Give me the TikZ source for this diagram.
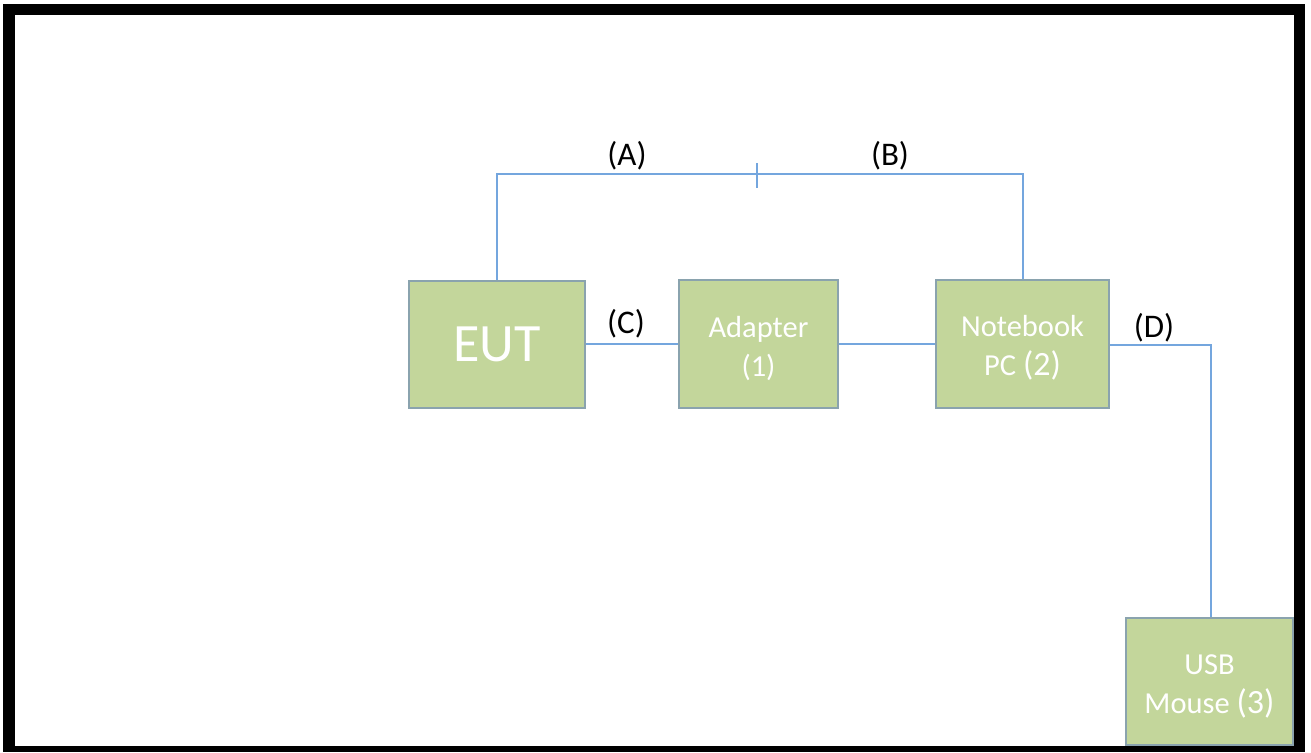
\documentclass[tikz,border=0pt]{standalone}
\usepackage{fontspec}
\setmainfont{Carlito}
\definecolor{boxfill}{HTML}{C3D69B}
\definecolor{boxline}{HTML}{8AA3AE}
\definecolor{wire}{HTML}{74A6DE}
\tikzset{
  unit/.style={draw=boxline, line width=2pt, fill=boxfill, inner sep=0pt},
  boxtext/.style={text=white, align=center, inner sep=0pt, font=\fontsize{30.5}{39}\selectfont},
  wireline/.style={draw=wire, line width=2pt},
  lbl/.style={anchor=base, text=black, font=\fontsize{33}{38}\selectfont, inner sep=0pt}
}
\begin{document}
\begin{tikzpicture}[x=1pt,y=-1pt]
\useasboundingbox (0,0) rectangle (1311,752);
\fill[black] (3,4) rectangle (1305,752);
\fill[white] (15,15) rectangle (1294,746);
% boxes
\node[unit, minimum width=176pt, minimum height=127pt, text=white, font=\fontsize{54}{60}\selectfont] (eut) at (497,344) {EUT};
\node[unit, minimum width=159pt, minimum height=128pt] (adp) at (758.5,344) {};
\node[unit, minimum width=173pt, minimum height=128pt] (nb) at (1022.5,344) {};
\node[unit, minimum width=167pt, minimum height=127pt] (usb) at (1209.5,681.5) {};
\node[boxtext] (adpt) at ([yshift=-5pt]adp.center) {Adapter\\(1)};
\node[boxtext] (nbt) at ([yshift=-4pt]nb.center) {Notebook\\PC {\fontsize{34}{39}\selectfont(2)}};
\node[boxtext] (usbt) at ([yshift=-5pt]usb.center) {USB\\Mouse {\fontsize{34}{39}\selectfont(3)}};
% connectors
\coordinate (tick) at (757,174);
\coordinate (dcorner) at (1211,345);
\draw[wireline] (eut.north) -- (eut.north |- tick) -- (tick) -| (nb.north);
\draw[wireline] ([yshift=11pt]tick) -- ([yshift=-14pt]tick);
\draw[wireline] (eut.east) -- (adp.west);
\draw[wireline] (adp.east) -- (nb.west);
\draw[wireline] (nb.east |- dcorner) -- (dcorner) -- (dcorner |- usb.north);
% labels
\node[lbl] (la) at (627,165) {(A)};
\node[lbl] (lb) at (890,165) {(B)};
\node[lbl] (lc) at (626,333) {(C)};
\node[lbl] (ld) at (1154,337) {(D)};
\end{tikzpicture}
\end{document}
